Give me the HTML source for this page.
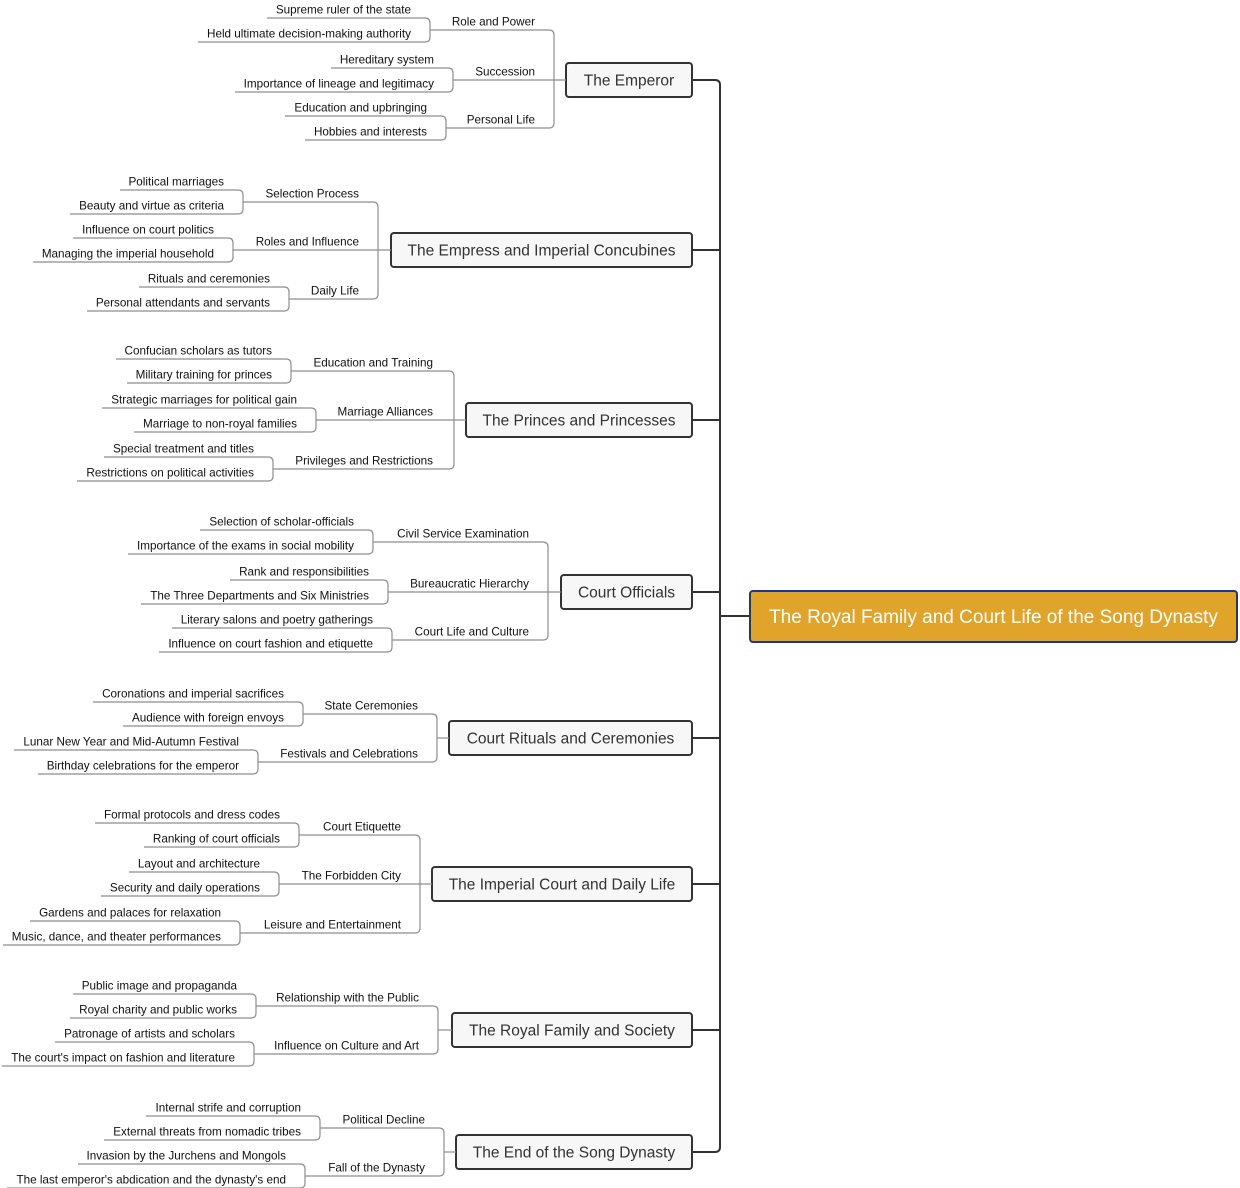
<!DOCTYPE html>
<html>
<head>
<meta charset="utf-8">
<style>
html,body{margin:0;padding:0;background:#fff;}
svg{display:block;}
.l1{font-family:"Liberation Sans",Arial,sans-serif;font-size:15.5px;fill:#333;text-anchor:middle;}
.l2,.l3{font-family:"Liberation Sans",Arial,sans-serif;font-size:11.7px;fill:#111;text-anchor:end;}
.rt{font-family:"Liberation Sans",Arial,sans-serif;font-size:19px;fill:#fff;text-anchor:middle;}
.c{stroke:#8e8e8e;stroke-width:1.2;fill:none;}
.t{stroke:#333;stroke-width:2;fill:none;}
.bx{fill:#f7f7f7;stroke:#333;stroke-width:2;}
</style>
</head>
<body>
<svg width="1240" height="1188" viewBox="0 0 1240 1188" xmlns="http://www.w3.org/2000/svg">
<!-- trunk -->
<path class="t" d="M692 80 H715 Q720 80 720 85 V1147 Q720 1152 715 1152 H692"/>
<line class="t" x1="692" y1="250" x2="720" y2="250"/>
<line class="t" x1="692" y1="420" x2="720" y2="420"/>
<line class="t" x1="692" y1="592" x2="720" y2="592"/>
<line class="t" x1="692" y1="738" x2="720" y2="738"/>
<line class="t" x1="692" y1="884" x2="720" y2="884"/>
<line class="t" x1="692" y1="1030" x2="720" y2="1030"/>
<line class="t" x1="720" y1="616" x2="750" y2="616"/>

<!-- root -->
<rect x="750" y="591" width="487" height="51" rx="3" fill="#e0a42b" stroke="#1d3b7a" stroke-width="2"/>
<text class="rt" x="993.5" y="623">The Royal Family and Court Life of the Song Dynasty</text>

<!-- ===== G1 The Emperor ===== -->
<rect class="bx" x="566" y="63" width="126" height="34" rx="3"/>
<text class="l1" x="629" y="85.5">The Emperor</text>
<path class="c" d="M549 30 Q554 30 554 35 V123 Q554 128 549 128"/>
<line class="c" x1="430" y1="30" x2="549" y2="30"/>
<line class="c" x1="453" y1="80" x2="566" y2="80"/>
<line class="c" x1="446" y1="128" x2="549" y2="128"/>
<text class="l2" x="535" y="25.5">Role and Power</text>
<text class="l2" x="535" y="75.5">Succession</text>
<text class="l2" x="535" y="123.5">Personal Life</text>
<path class="c" d="M425 18 Q430 18 430 23 V37 Q430 42 425 42"/>
<text class="l3" x="411" y="13.5">Supreme ruler of the state</text><line class="c" x1="266" y1="18" x2="425" y2="18"/>
<text class="l3" x="411" y="37.5">Held ultimate decision-making authority</text><line class="c" x1="195" y1="42" x2="425" y2="42"/>
<path class="c" d="M448 68 Q453 68 453 73 V87 Q453 92 448 92"/>
<text class="l3" x="434" y="63.5">Hereditary system</text><line class="c" x1="329" y1="68" x2="448" y2="68"/>
<text class="l3" x="434" y="87.5">Importance of lineage and legitimacy</text><line class="c" x1="233" y1="92" x2="448" y2="92"/>
<path class="c" d="M441 116 Q446 116 446 121 V135 Q446 140 441 140"/>
<text class="l3" x="427" y="111.5">Education and upbringing</text><line class="c" x1="283" y1="116" x2="441" y2="116"/>
<text class="l3" x="427" y="135.5">Hobbies and interests</text><line class="c" x1="303" y1="140" x2="441" y2="140"/>

<!-- ===== G2 Empress ===== -->
<rect class="bx" x="391" y="233" width="301" height="34" rx="3"/>
<text class="l1" x="541.5" y="255.5">The Empress and Imperial Concubines</text>
<path class="c" d="M373 202 Q378 202 378 207 V294 Q378 299 373 299"/>
<line class="c" x1="243" y1="202" x2="373" y2="202"/>
<line class="c" x1="233" y1="250" x2="391" y2="250"/>
<line class="c" x1="289" y1="299" x2="373" y2="299"/>
<text class="l2" x="359" y="197.5">Selection Process</text>
<text class="l2" x="359" y="245.5">Roles and Influence</text>
<text class="l2" x="359" y="294.5">Daily Life</text>
<path class="c" d="M238 190 Q243 190 243 195 V209 Q243 214 238 214"/>
<text class="l3" x="224" y="185.5">Political marriages</text><line class="c" x1="119" y1="190" x2="238" y2="190"/>
<text class="l3" x="224" y="209.5">Beauty and virtue as criteria</text><line class="c" x1="69" y1="214" x2="238" y2="214"/>
<path class="c" d="M228 238 Q233 238 233 243 V257 Q233 262 228 262"/>
<text class="l3" x="214" y="233.5">Influence on court politics</text><line class="c" x1="73" y1="238" x2="228" y2="238"/>
<text class="l3" x="214" y="257.5">Managing the imperial household</text><line class="c" x1="33" y1="262" x2="228" y2="262"/>
<path class="c" d="M284 287 Q289 287 289 292 V306 Q289 311 284 311"/>
<text class="l3" x="270" y="282.5">Rituals and ceremonies</text><line class="c" x1="139" y1="287" x2="284" y2="287"/>
<text class="l3" x="270" y="306.5">Personal attendants and servants</text><line class="c" x1="85" y1="311" x2="284" y2="311"/>

<!-- ===== G3 Princes ===== -->
<rect class="bx" x="466" y="403" width="226" height="34" rx="3"/>
<text class="l1" x="579" y="425.5">The Princes and Princesses</text>
<path class="c" d="M449 371 Q454 371 454 376 V464 Q454 469 449 469"/>
<line class="c" x1="291" y1="371" x2="449" y2="371"/>
<line class="c" x1="316" y1="420" x2="466" y2="420"/>
<line class="c" x1="273" y1="469" x2="449" y2="469"/>
<text class="l2" x="433" y="366.5">Education and Training</text>
<text class="l2" x="433" y="415.5">Marriage Alliances</text>
<text class="l2" x="433" y="464.5">Privileges and Restrictions</text>
<path class="c" d="M286 359 Q291 359 291 364 V378 Q291 383 286 383"/>
<text class="l3" x="272" y="354.5">Confucian scholars as tutors</text><line class="c" x1="115" y1="359" x2="286" y2="359"/>
<text class="l3" x="272" y="378.5">Military training for princes</text><line class="c" x1="127" y1="383" x2="286" y2="383"/>
<path class="c" d="M311 408 Q316 408 316 413 V427 Q316 432 311 432"/>
<text class="l3" x="297" y="403.5">Strategic marriages for political gain</text><line class="c" x1="101" y1="408" x2="311" y2="408"/>
<text class="l3" x="297" y="427.5">Marriage to non-royal families</text><line class="c" x1="133" y1="432" x2="311" y2="432"/>
<path class="c" d="M268 457 Q273 457 273 462 V476 Q273 481 268 481"/>
<text class="l3" x="254" y="452.5">Special treatment and titles</text><line class="c" x1="103" y1="457" x2="268" y2="457"/>
<text class="l3" x="254" y="476.5">Restrictions on political activities</text><line class="c" x1="77" y1="481" x2="268" y2="481"/>

<!-- ===== G4 Court Officials ===== -->
<rect class="bx" x="561" y="575" width="131" height="34" rx="3"/>
<text class="l1" x="626.5" y="597.5">Court Officials</text>
<path class="c" d="M543 542 Q548 542 548 547 V635 Q548 640 543 640"/>
<line class="c" x1="373" y1="542" x2="543" y2="542"/>
<line class="c" x1="388" y1="592" x2="561" y2="592"/>
<line class="c" x1="392" y1="640" x2="543" y2="640"/>
<text class="l2" x="529" y="537.5">Civil Service Examination</text>
<text class="l2" x="529" y="587.5">Bureaucratic Hierarchy</text>
<text class="l2" x="529" y="635.5">Court Life and Culture</text>
<path class="c" d="M368 530 Q373 530 373 535 V549 Q373 554 368 554"/>
<text class="l3" x="354" y="525.5">Selection of scholar-officials</text><line class="c" x1="201" y1="530" x2="368" y2="530"/>
<text class="l3" x="354" y="549.5">Importance of the exams in social mobility</text><line class="c" x1="129" y1="554" x2="368" y2="554"/>
<path class="c" d="M383 580 Q388 580 388 585 V599 Q388 604 383 604"/>
<text class="l3" x="369" y="575.5">Rank and responsibilities</text><line class="c" x1="229" y1="580" x2="383" y2="580"/>
<text class="l3" x="369" y="599.5">The Three Departments and Six Ministries</text><line class="c" x1="139" y1="604" x2="383" y2="604"/>
<path class="c" d="M387 628 Q392 628 392 633 V647 Q392 652 387 652"/>
<text class="l3" x="373" y="623.5">Literary salons and poetry gatherings</text><line class="c" x1="171" y1="628" x2="387" y2="628"/>
<text class="l3" x="373" y="647.5">Influence on court fashion and etiquette</text><line class="c" x1="159" y1="652" x2="387" y2="652"/>

<!-- ===== G5 Court Rituals ===== -->
<rect class="bx" x="449" y="721" width="243" height="34" rx="3"/>
<text class="l1" x="570.5" y="743.5">Court Rituals and Ceremonies</text>
<path class="c" d="M432 714 Q437 714 437 719 V757 Q437 762 432 762"/>
<line class="c" x1="437" y1="738" x2="449" y2="738"/>
<line class="c" x1="303" y1="714" x2="432" y2="714"/>
<line class="c" x1="258" y1="762" x2="432" y2="762"/>
<text class="l2" x="418" y="709.5">State Ceremonies</text>
<text class="l2" x="418" y="757.5">Festivals and Celebrations</text>
<path class="c" d="M298 702 Q303 702 303 707 V721 Q303 726 298 726"/>
<text class="l3" x="284" y="697.5">Coronations and imperial sacrifices</text><line class="c" x1="91" y1="702" x2="298" y2="702"/>
<text class="l3" x="284" y="721.5">Audience with foreign envoys</text><line class="c" x1="121" y1="726" x2="298" y2="726"/>
<path class="c" d="M253 750 Q258 750 258 755 V769 Q258 774 253 774"/>
<text class="l3" x="239" y="745.5">Lunar New Year and Mid-Autumn Festival</text><line class="c" x1="13" y1="750" x2="253" y2="750"/>
<text class="l3" x="239" y="769.5">Birthday celebrations for the emperor</text><line class="c" x1="37" y1="774" x2="253" y2="774"/>

<!-- ===== G6 Imperial Court ===== -->
<rect class="bx" x="432" y="867" width="260" height="34" rx="3"/>
<text class="l1" x="562" y="889.5">The Imperial Court and Daily Life</text>
<path class="c" d="M415 835 Q420 835 420 840 V928 Q420 933 415 933"/>
<line class="c" x1="299" y1="835" x2="415" y2="835"/>
<line class="c" x1="279" y1="884" x2="432" y2="884"/>
<line class="c" x1="240" y1="933" x2="415" y2="933"/>
<text class="l2" x="401" y="830.5">Court Etiquette</text>
<text class="l2" x="401" y="879.5">The Forbidden City</text>
<text class="l2" x="401" y="928.5">Leisure and Entertainment</text>
<path class="c" d="M294 823 Q299 823 299 828 V842 Q299 847 294 847"/>
<text class="l3" x="280" y="818.5">Formal protocols and dress codes</text><line class="c" x1="95" y1="823" x2="294" y2="823"/>
<text class="l3" x="280" y="842.5">Ranking of court officials</text><line class="c" x1="145" y1="847" x2="294" y2="847"/>
<path class="c" d="M274 872 Q279 872 279 877 V891 Q279 896 274 896"/>
<text class="l3" x="260" y="867.5">Layout and architecture</text><line class="c" x1="127" y1="872" x2="274" y2="872"/>
<text class="l3" x="260" y="891.5">Security and daily operations</text><line class="c" x1="99" y1="896" x2="274" y2="896"/>
<path class="c" d="M235 921 Q240 921 240 926 V940 Q240 945 235 945"/>
<text class="l3" x="221" y="916.5">Gardens and palaces for relaxation</text><line class="c" x1="29" y1="921" x2="235" y2="921"/>
<text class="l3" x="221" y="940.5">Music, dance, and theater performances</text><line class="c" x1="3" y1="945" x2="235" y2="945"/>

<!-- ===== G7 Royal Family and Society ===== -->
<rect class="bx" x="452" y="1013" width="240" height="34" rx="3"/>
<text class="l1" x="572" y="1035.5">The Royal Family and Society</text>
<path class="c" d="M433 1006 Q438 1006 438 1011 V1049 Q438 1054 433 1054"/>
<line class="c" x1="438" y1="1030" x2="452" y2="1030"/>
<line class="c" x1="256" y1="1006" x2="433" y2="1006"/>
<line class="c" x1="254" y1="1054" x2="433" y2="1054"/>
<text class="l2" x="419" y="1001.5">Relationship with the Public</text>
<text class="l2" x="419" y="1049.5">Influence on Culture and Art</text>
<path class="c" d="M251 994 Q256 994 256 999 V1013 Q256 1018 251 1018"/>
<text class="l3" x="237" y="989.5">Public image and propaganda</text><line class="c" x1="71" y1="994" x2="251" y2="994"/>
<text class="l3" x="237" y="1013.5">Royal charity and public works</text><line class="c" x1="69" y1="1018" x2="251" y2="1018"/>
<path class="c" d="M249 1042 Q254 1042 254 1047 V1061 Q254 1066 249 1066"/>
<text class="l3" x="235" y="1037.5">Patronage of artists and scholars</text><line class="c" x1="53" y1="1042" x2="249" y2="1042"/>
<text class="l3" x="235" y="1061.5">The court's impact on fashion and literature</text><line class="c" x1="0" y1="1066" x2="249" y2="1066"/>

<!-- ===== G8 End of Song ===== -->
<rect class="bx" x="456" y="1135" width="236" height="34" rx="3"/>
<text class="l1" x="574" y="1157.5">The End of the Song Dynasty</text>
<path class="c" d="M439 1128 Q444 1128 444 1133 V1171 Q444 1176 439 1176"/>
<line class="c" x1="444" y1="1152" x2="456" y2="1152"/>
<line class="c" x1="320" y1="1128" x2="439" y2="1128"/>
<line class="c" x1="305" y1="1176" x2="439" y2="1176"/>
<text class="l2" x="425" y="1123.5">Political Decline</text>
<text class="l2" x="425" y="1171.5">Fall of the Dynasty</text>
<path class="c" d="M315 1116 Q320 1116 320 1121 V1135 Q320 1140 315 1140"/>
<text class="l3" x="301" y="1111.5">Internal strife and corruption</text><line class="c" x1="145" y1="1116" x2="315" y2="1116"/>
<text class="l3" x="301" y="1135.5">External threats from nomadic tribes</text><line class="c" x1="101" y1="1140" x2="315" y2="1140"/>
<path class="c" d="M300 1164 Q305 1164 305 1169 V1183 Q305 1188 300 1188"/>
<text class="l3" x="286" y="1159.5">Invasion by the Jurchens and Mongols</text><line class="c" x1="77" y1="1164" x2="300" y2="1164"/>
<text class="l3" x="286" y="1183.5">The last emperor's abdication and the dynasty's end</text><line class="c" x1="5" y1="1188" x2="300" y2="1188"/>
</svg>
<script>
(function(){
  try{
    var ts=document.querySelectorAll('text.l3');
    for(var i=0;i<ts.length;i++){
      var t=ts[i], ln=t.nextElementSibling;
      if(!ln||ln.tagName.toLowerCase()!=='line')continue;
      var b=t.getBBox();
      var x=Math.max(0,Math.round(b.x-9));
      ln.setAttribute('x1',x);
    }
  }catch(e){}
})();
</script>
</body>
</html>
